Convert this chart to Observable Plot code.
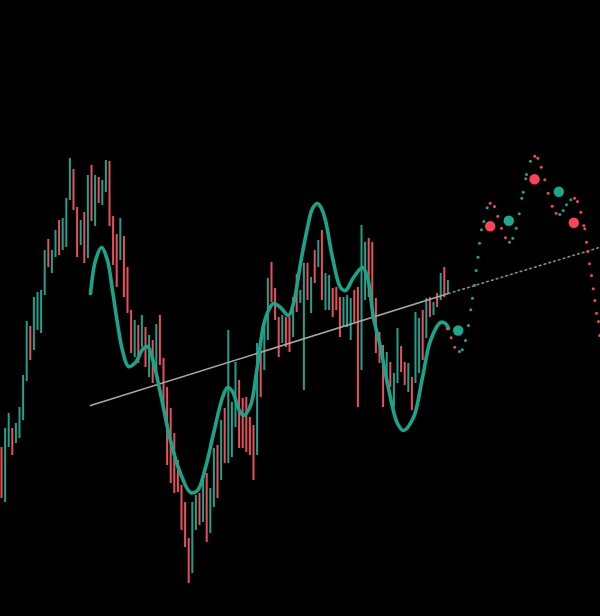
<!DOCTYPE html>
<html>
<head>
<meta charset="utf-8">
<script src="https://cdn.jsdelivr.net/npm/d3@7"></script>
<script src="https://cdn.jsdelivr.net/npm/@observablehq/plot@0.6"></script>
<style>
  html, body { margin: 0; padding: 0; background: #000; }
  #chart { width: 600px; height: 616px; overflow: hidden; }
</style>
</head>
<body>
<div id="chart"></div>
<script>
// Bar data (index = bar number, prices in arbitrary units)
const highs = [203,222,237,222,227,243,275,329,324,353,358,360,400,411,400,420,430,432,452,492,
  481,443,430,438,475,485,475,473,470,490,489,434,416,432,414,383,340,330,325,335,
  323,315,310,326,335,292,263,242,217,190,165,148,112,148,155,157,172,177,162,202,
  205,230,242,320,248,288,270,252,253,233,225,307,300,330,372,388,362,333,335,333,
  333,353,376,360,387,387,373,400,410,420,377,375,362,363,353,353,355,352,360,363,
  425,408,412,408,352,318,305,298,288,277,322,304,288,287,273,338,332,340,352,353,
  348,357,377,383,370];
const lows = [152,148,203,195,207,212,230,269,290,300,320,317,355,383,377,393,395,400,403,450,
  440,393,405,387,392,429,424,447,445,458,424,385,363,390,353,337,297,293,287,303,
  283,273,267,273,285,240,185,167,157,158,120,103,67,77,120,125,128,108,117,143,
  152,170,187,187,193,223,202,202,198,195,170,195,253,280,310,348,330,293,307,303,
  298,313,338,347,260,350,337,367,383,350,340,340,333,340,313,323,323,310,328,243,
  280,350,353,333,297,287,243,267,263,243,267,278,265,258,240,267,277,290,312,333,
  335,343,350,353,357];
// 1 = up (teal), 0 = down (red)
const ups = [0,1,1,0,1,1,1,1,0,1,1,1,1,0,1,1,0,1,1,1,
  0,0,1,0,1,0,1,0,1,1,0,0,0,1,0,0,0,1,0,1,
  0,1,0,1,0,0,0,0,0,0,0,0,0,1,1,0,1,0,1,1,
  0,1,0,1,1,1,0,0,0,0,0,1,0,1,1,0,0,0,1,0,
  0,1,0,1,1,0,1,0,1,0,1,1,0,0,0,1,1,1,0,0,
  1,1,0,0,0,0,0,1,0,1,1,0,0,1,0,1,1,0,1,0,
  1,0,1,0,1];

// Smoothed curve
const curveX = [24.72,26.11,27.78,29.44,30.83,32.22,33.61,35.28,37.22,39.17,40.56,41.94,44.17,46.94,49.72,52.5,54.44,56.67,58.89,61.39,
  62.78,64.17,65.83,67.22,69.17,70.83,72.78,74.17,75.56,77.5,79.72,81.11,83.06,85,86.39,87.78,88.89,90,91.94,94.17,
  95.56,97.78,100.28,101.67,103.33,105.28,107.22,110,111.67,114.44,116.94,119.17,121.94,123.33,124.17];
const curveY = [357,390,403,390,360,327,300,284,288,301,304,292,257,210,177,158,160,183,217,253,
  263,259,242,235,245,278,325,340,347,343,335,347,387,423,442,447,442,430,393,363,
  360,373,383,373,333,303,267,227,220,233,273,310,328,327,322];

// Trend line: [index, price]
const trendSolid = [[24.72,245],[124.17,357]];
const trendProjected = [[124.17,357],[166.4,403.4]];

// Forecast small dots
const fcX = [123.8,124.9,125.9,127.2,128.0,128.89,129.72,130.36,130.83,131.39,131.86,132.36,132.78,133.33,133.97,134.92,
  135.75,136.94,137.86,138.89,140,
  141.11,142.03,142.97,143.81,144.53,144.92,145.64,145.83,146.94,
  148.14,148.97,149.92,150.92,151.86,152.97,154.08,
  155.08,156.03,156.94,158.14,
  159.17,160,160.92,161.75,162.03,162.5,162.86,163.33,163.89,164.36,164.81,165.28,165.83,166.19];
const fcY = [321.7,312.7,303.3,299,300.7,310,325,340.7,352.3,365.3,380,393.3,407.3,420.7,429,442.7,
  447.3,444,434.3,422.3,412.7,
  408.3,412.3,422.3,436.7,452.3,458.3,471.7,476,489.3,
  494.3,492.3,483.3,470.7,457.3,444.3,437.3,
  436,440,445.7,450.7,
  452.3,449,438.3,425,421.7,408.3,399,386.7,375,361.7,350,337.3,329,315];
const fcUp = [0,0,0,1,1,1,1,1,1,1,1,1,1,1,1,1,
  0,0,0,0,0,
  1,1,1,1,1,1,1,1,1,
  0,0,0,0,0,0,0,
  1,1,1,1,
  0,0,0,0,0,0,0,0,0,0,0,0,0,0];

// Forecast pivot circles
const pivX = [126.86,135.75,140.92,148.06,154.81,158.97];
const pivY = [320,424.3,429.7,471.3,458.7,427.7];
const pivUp = [1,0,1,0,1,0];

const TEAL = "#22a08c", RED = "#e8505b";
const TEAL_C = "#1ca88d", RED_C = "#fb4455";

const bars = highs.map((h, i) => ({i, high: h, low: lows[i], up: ups[i]}));
const curve = curveX.map((x, k) => ({x, y: curveY[k]}));
const fc = fcX.map((x, k) => ({x, y: fcY[k], up: fcUp[k]}));
const piv = pivX.map((x, k) => ({x, y: pivY[k], up: pivUp[k]}));

const chart = Plot.plot({
  width: 600,
  height: 616,
  margin: 0,
  style: {background: "#000"},
  x: {domain: [-0.278, 166.39], axis: null},
  y: {domain: [34, 650], axis: null},
  marks: [
    Plot.ruleX(bars, {x: "i", y1: "low", y2: "high", stroke: d => d.up ? TEAL : RED, strokeWidth: 2}),
    Plot.line(trendSolid, {x: d => d[0], y: d => d[1], stroke: "#a8a8a8", strokeWidth: 1.6}),
    Plot.line(trendProjected, {x: d => d[0], y: d => d[1], stroke: "#8a8a8a", strokeWidth: 1.6, strokeDasharray: "1.6,3.4"}),
    Plot.line(curve, {x: "x", y: "y", curve: "catmull-rom", stroke: "#1aa58b", strokeWidth: 3.6}),
    Plot.dot(fc, {x: "x", y: "y", r: 1.5, fill: d => d.up ? TEAL_C : RED_C, stroke: "none"}),
    Plot.dot(piv, {x: "x", y: "y", r: 5.2, fill: d => d.up ? TEAL_C : RED_C, stroke: "none"})
  ]
});
document.getElementById("chart").appendChild(chart);
</script>
</body>
</html>
